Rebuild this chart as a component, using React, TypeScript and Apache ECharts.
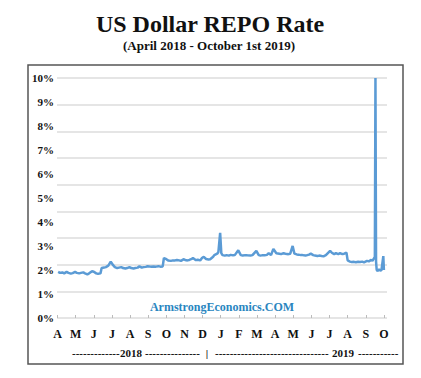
import React, { useEffect, useRef } from "react";
import * as echarts from "echarts";

const monthLetters = ["A","M","J","J","A","S","O","N","D","J","F","M","A","M","J","J","A","S","O"];
const yTicks = [0,1,2,3,4,5,6,7,8,9,10];

const dates = [
  "2018-04-02","2018-04-05","2018-04-09","2018-04-12","2018-04-16","2018-04-19","2018-04-23","2018-04-26","2018-04-30",
  "2018-05-03","2018-05-07","2018-05-10","2018-05-14","2018-05-17","2018-05-21","2018-05-24","2018-05-29",
  "2018-06-01","2018-06-05","2018-06-08","2018-06-12","2018-06-14","2018-06-18","2018-06-21","2018-06-25","2018-06-29",
  "2018-07-03","2018-07-06","2018-07-10","2018-07-13","2018-07-17","2018-07-20","2018-07-24","2018-07-27","2018-07-31",
  "2018-08-03","2018-08-07","2018-08-10","2018-08-14","2018-08-17","2018-08-21","2018-08-24","2018-08-28","2018-08-31",
  "2018-09-05","2018-09-10","2018-09-14","2018-09-18","2018-09-21","2018-09-25","2018-09-27",
  "2018-10-01","2018-10-04","2018-10-09","2018-10-12","2018-10-16","2018-10-19","2018-10-23","2018-10-26","2018-10-31",
  "2018-11-02","2018-11-06","2018-11-09","2018-11-13","2018-11-15","2018-11-20","2018-11-23","2018-11-27","2018-11-30",
  "2018-12-03","2018-12-07","2018-12-11","2018-12-14","2018-12-19","2018-12-21","2018-12-26","2018-12-28","2018-12-31",
  "2019-01-02","2019-01-04","2019-01-08","2019-01-11","2019-01-15","2019-01-18","2019-01-22","2019-01-25","2019-01-31",
  "2019-02-04","2019-02-07","2019-02-11","2019-02-14","2019-02-19","2019-02-22","2019-02-28",
  "2019-03-04","2019-03-07","2019-03-11","2019-03-14","2019-03-18","2019-03-21","2019-03-25","2019-03-29",
  "2019-04-03","2019-04-08","2019-04-11","2019-04-15","2019-04-18","2019-04-23","2019-04-26","2019-04-30",
  "2019-05-03","2019-05-07","2019-05-10","2019-05-14","2019-05-17","2019-05-22","2019-05-28","2019-05-31",
  "2019-06-04","2019-06-07","2019-06-11","2019-06-14","2019-06-18","2019-06-21","2019-06-25","2019-07-02",
  "2019-07-05","2019-07-09","2019-07-12","2019-07-16","2019-07-19","2019-07-23","2019-07-26","2019-07-30",
  "2019-08-01","2019-08-05","2019-08-08","2019-08-12","2019-08-15","2019-08-19","2019-08-22","2019-08-26","2019-08-29",
  "2019-09-03","2019-09-06","2019-09-10","2019-09-12","2019-09-16","2019-09-17","2019-09-18","2019-09-19","2019-09-20",
  "2019-09-23","2019-09-25","2019-09-27","2019-09-30","2019-10-01"
];

const rates = [
  1.92,1.88,1.90,1.86,1.92,1.88,1.85,1.87,1.92,
  1.88,1.86,1.88,1.90,1.86,1.82,1.86,1.95,
  1.93,1.86,1.84,1.86,2.08,2.10,2.12,2.18,2.35,
  2.20,2.12,2.08,2.10,2.12,2.08,2.06,2.08,2.12,
  2.08,2.06,2.08,2.10,2.15,2.10,2.12,2.13,2.16,
  2.14,2.15,2.14,2.16,2.14,2.15,2.50,
  2.45,2.40,2.38,2.40,2.40,2.42,2.40,2.38,2.45,
  2.42,2.40,2.42,2.46,2.50,2.41,2.43,2.40,2.50,
  2.55,2.46,2.44,2.45,2.55,2.62,2.68,2.75,3.55,
  2.70,2.62,2.60,2.62,2.60,2.63,2.61,2.62,2.82,
  2.62,2.60,2.62,2.61,2.60,2.62,2.80,
  2.62,2.60,2.62,2.61,2.63,2.70,2.62,2.88,
  2.70,2.68,2.66,2.70,2.68,2.66,2.68,3.00,
  2.68,2.65,2.64,2.62,2.62,2.60,2.64,2.68,
  2.62,2.60,2.58,2.60,2.58,2.57,2.62,2.80,
  2.72,2.66,2.70,2.66,2.70,2.66,2.68,2.72,
  2.40,2.35,2.33,2.34,2.32,2.34,2.33,2.35,2.32,
  2.38,2.36,2.42,2.38,2.55,10.0,2.35,2.02,1.95,
  2.02,1.98,2.00,2.58,2.00
];

function toMonths(d: string): number {
  const [y, m, dd] = d.split("-").map(Number);
  const dim = new Date(y, m, 0).getDate();
  return (y - 2018) * 12 + (m - 4) + (dd - 1) / dim;
}

const FONT = "Liberation Serif";

export default function App() {
  const ref = useRef<HTMLDivElement>(null);
  useEffect(() => {
    if (!ref.current) return;
    const chart = echarts.init(ref.current, undefined, { renderer: "svg" });
    const points = dates.map((d, i) => [toMonths(d), rates[i]]);
    const txt = (text: string, x: number, y: number, size: number, align: string, fill = "#111") => ({
      type: "text",
      x, y,
      style: {
        text, fill,
        font: `bold ${size}px "${FONT}"`,
        textAlign: align, textVerticalAlign: "middle",
        align, verticalAlign: "middle",
      },
    });
    chart.setOption({
      animation: false,
      backgroundColor: "#ffffff",
      textStyle: { fontFamily: FONT },
      grid: { left: 57, right: 34, top: 78, bottom: 60, containLabel: false },
      xAxis: {
        type: "value",
        min: -0.03,
        max: 18.17,
        axisLine: { show: false },
        splitLine: { show: false },
        axisTick: {
          show: true,
          customValues: monthLetters.map((_, i) => i),
          length: 3,
          inside: true,
          lineStyle: { color: "#bbbbbb", width: 1 },
        },
        axisLabel: {
          customValues: monthLetters.map((_, i) => i),
          formatter: (v: number) => monthLetters[Math.round(v)] ?? "",
          margin: 10,
          color: "#111",
          fontFamily: FONT,
          fontWeight: "bold",
          fontSize: 12,
        },
      },
      yAxis: [
        {
          type: "value",
          min: 0,
          max: 10,
          interval: 1,
          axisLine: { show: false },
          axisTick: { show: false },
          splitLine: { show: false },
          axisLabel: {
            formatter: (v: number) => `${v}%`,
            customValues: yTicks,
            margin: 3,
            color: "#111",
            fontFamily: FONT,
            fontWeight: "bold",
            fontSize: 11,
          },
        },
        {
          type: "value",
          min: 0,
          max: 9,
          interval: 1,
          position: "left",
          axisLine: { show: false },
          axisTick: { show: false },
          axisLabel: { show: false },
          splitLine: { show: true, lineStyle: { color: "#dcdcdc", width: 1.5 } },
        },
      ],
      series: [
        {
          type: "line",
          yAxisIndex: 0,
          data: points,
          showSymbol: false,
          symbol: "none",
          lineStyle: { color: "#5b9bd5", width: 2.5 },
          z: 5,
        },
      ],
      graphic: [
        {
          type: "rect",
          shape: { x: 28, y: 65, width: 375, height: 299 },
          style: { fill: "none", stroke: "#555555", lineWidth: 1.5 },
          silent: true,
        },
        txt("US Dollar REPO Rate", 210, 24, 24, "center"),
        txt("(April 2018 - October 1st 2019)", 209, 45, 13, "center"),
        txt("ArmstrongEconomics.COM", 222, 307, 12, "center", "#2a86bf"),
        txt("-------------", 72, 353, 11, "left"),
        txt("2018", 131, 353, 11, "center"),
        txt("---------------", 145, 353, 11, "left"),
        txt("|", 207, 353, 11, "center", "#111111"),
        txt("-------------------------------", 215, 353, 11, "left"),
        txt("2019", 343, 353, 11, "center"),
        txt("-----------", 358, 353, 11, "left"),
      ],
    });
    return () => chart.dispose();
  }, []);
  return <div ref={ref} style={{ width: 421, height: 378, margin: -8 }} />;
}
